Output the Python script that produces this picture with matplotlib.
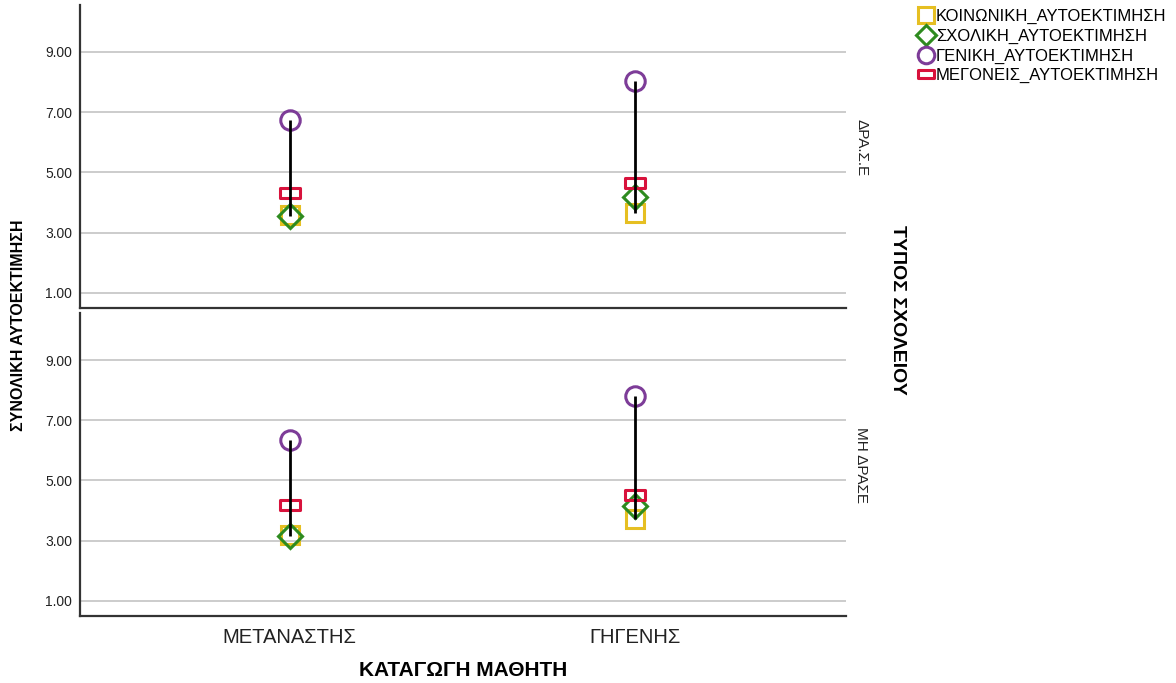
import matplotlib.pyplot as plt
import numpy as np
from matplotlib.path import Path

# Mean self-esteem scores per student origin, split by school type
origins = ["ΜΕΤΑΝΑΣΤΗΣ", "ΓΗΓΕΝΗΣ"]
school_types = ["ΔΡΑ.Σ.Ε", "ΜΗ ΔΡΑΣΕ"]
series_names = [
    "ΚΟΙΝΩΝΙΚΗ_ΑΥΤΟΕΚΤΙΜΗΣΗ",
    "ΣΧΟΛΙΚΗ_ΑΥΤΟΕΚΤΙΜΗΣΗ",
    "ΓΕΝΙΚΗ_ΑΥΤΟΕΚΤΙΜΗΣΗ",
    "ΜΕΓΟΝΕΙΣ_ΑΥΤΟΕΚΤΙΜΗΣΗ",
]

# values[panel] -> per origin
koinoniki = [[3.58, 3.65], [3.20, 3.72]]
scholiki = [[3.55, 4.18], [3.15, 4.15]]
geniki = [[6.74, 8.03], [6.34, 7.80]]
goneis = [[4.32, 4.65], [4.18, 4.51]]

y_ticks = [1, 3, 5, 7, 9]

flat_rect = Path([(-1, -0.5), (1, -0.5), (1, 0.5), (-1, 0.5), (-1, -0.5)],
                 [Path.MOVETO, Path.LINETO, Path.LINETO, Path.LINETO, Path.CLOSEPOLY])

styles = [
    dict(marker="s", color="#e6bf22", ms=13, mew=2.2),
    dict(marker="D", color="#2e8b1f", ms=12, mew=2.2),
    dict(marker="o", color="#7d3c98", ms=14, mew=2.2),
    dict(marker=flat_rect, color="#d8123c", ms=14, mew=2.2),
]

plt.rcParams["font.family"] = ["Liberation Sans", "DejaVu Sans"]

fig = plt.figure(figsize=(11.76, 6.83), dpi=100)
ax_top = fig.add_axes([0.068, 0.549, 0.6514, 0.4437])
ax_bot = fig.add_axes([0.068, 0.0981, 0.6514, 0.4436])

x = np.arange(len(origins))
facet_y = [0.528, 0.5]
for i, ax in enumerate([ax_top, ax_bot]):
    data = [koinoniki[i], scholiki[i], geniki[i], goneis[i]]
    for vals, st, name in zip(data, styles, series_names):
        ax.plot(x, vals, linestyle="none", marker=st["marker"], markersize=st["ms"],
                markerfacecolor="none", markeredgecolor=st["color"],
                markeredgewidth=st["mew"], label=name, zorder=3)
    arr = np.array(data)
    ax.vlines(x, arr.min(axis=0), arr.max(axis=0), color="black", linewidth=2, zorder=4)

    ax.set_xlim(-0.607, 1.61)
    ax.set_ylim(0.5, 10.56)
    ax.set_yticks(y_ticks)
    ax.set_yticklabels([f"{v:.2f}" for v in y_ticks], fontsize=10, color="#222222")
    ax.grid(axis="y", color="#c8c8c8", linewidth=1.3)
    ax.set_axisbelow(True)
    ax.tick_params(axis="y", length=0, pad=5.5)
    for side in ["top", "right"]:
        ax.spines[side].set_visible(False)
    for side in ["left", "bottom"]:
        ax.spines[side].set_color("#333333")
        ax.spines[side].set_linewidth(1.6)
    ax.text(1.011, facet_y[i], school_types[i], transform=ax.transAxes, rotation=-90,
            ha="left", va="center", fontsize=11, color="#222222")

ax_top.set_xticks([])
ax_bot.set_xticks(x)
ax_bot.set_xticklabels(origins, fontsize=14.5, color="#222222")
ax_bot.tick_params(axis="x", length=0, pad=9)
ax_bot.set_xlabel("ΚΑΤΑΓΩΓΗ ΜΑΘΗΤΗ", fontsize=15, fontweight="bold", labelpad=10)

fig.text(0.016, 0.524, "ΣΥΝΟΛΙΚΗ ΑΥΤΟΕΚΤΙΜΗΣΗ", rotation=90, ha="center", va="center",
         fontsize=11.5, fontweight="bold")
fig.text(0.763, 0.546, "ΤΥΠΟΣ ΣΧΟΛΕΙΟΥ", rotation=-90, ha="center", va="center",
         fontsize=14, fontweight="bold")

handles, labels = ax_top.get_legend_handles_labels()
leg = fig.legend(handles, labels, loc="upper left", bbox_to_anchor=(0.781, 0.987),
                 frameon=False, fontsize=12, handletextpad=0.15, labelspacing=0.28,
                 handlelength=0.9, markerscale=0.85, borderaxespad=0, borderpad=0)

fig.savefig("out.png", dpi=100)
